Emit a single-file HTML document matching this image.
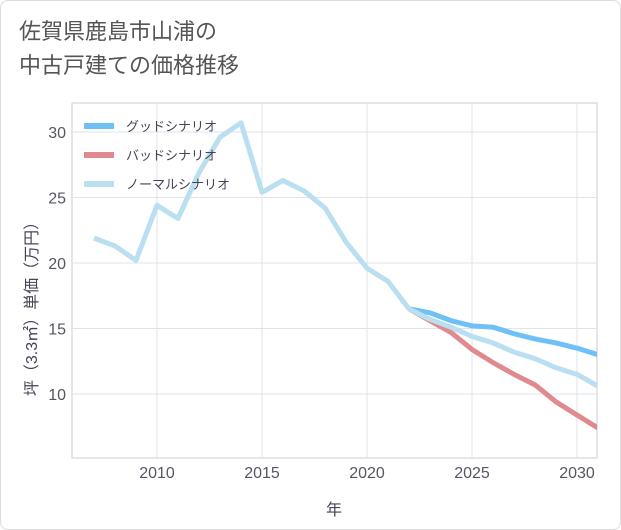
<!DOCTYPE html>
<html><head><meta charset="utf-8"><style>
body{margin:0;background:#fff;font-family:"Liberation Sans","Noto Sans CJK JP",sans-serif}
#wrap{position:relative;width:619px;height:528px;border:1px solid #ddd;border-radius:8px;background:#fff}
#title{position:absolute;left:18px;top:14px;font-size:22px;line-height:34px;color:#555}
</style></head><body>
<div id="wrap">
<div id="title">佐賀県鹿島市山浦の<br>中古戸建ての価格推移</div>
<svg id="chart" width="621" height="530" style="position:absolute;left:-1px;top:-1px"></svg>
</div>
<script>
const years=[2007,2008,2009,2010,2011,2012,2013,2014,2015,2016,2017,2018,2019,2020,2021,2022,2023,2024,2025,2026,2027,2028,2029,2030,2031];
const normal=[21.9,21.3,20.2,24.4,23.4,26.9,29.6,30.7,25.4,26.3,25.5,24.2,21.6,19.6,18.6,16.5,15.7,15.1,14.4,13.9,13.2,12.7,12.0,11.5,10.6];
const futYears=[2022,2023,2024,2025,2026,2027,2028,2029,2030,2031];
const good=[16.5,16.2,15.6,15.2,15.1,14.6,14.2,13.9,13.5,13.0];
const bad=[16.5,15.6,14.7,13.4,12.4,11.5,10.7,9.4,8.4,7.4];
const xTicks=[2010,2015,2020,2025,2030];
const yTicks=[10,15,20,25,30];
const NS="http://www.w3.org/2000/svg";
const svg=document.getElementById('chart');
const L=72,R=597,T=103,B=458;
const x=v=>157+(v-2010)*21;
const y=v=>263-(v-20)*13.1;
function el(t,a,p){const e=document.createElementNS(NS,t);for(const k in a)e.setAttribute(k,a[k]);(p||svg).appendChild(e);return e;}
const frame=el('rect',{x:L,y:T,width:R-L,height:B-T,fill:'none',stroke:'#ccc'});


xTicks.forEach(v=>{
 const g=el('line',{x1:x(v),x2:x(v),y1:T,y2:B,stroke:'#dde4ea'});
 
 
 const t=el('text',{x:x(v),y:478,'text-anchor':'middle','font-size':16,fill:'#556'});t.textContent=v;
 
 
});
yTicks.forEach(v=>{
 const g=el('line',{x1:L,x2:R,y1:y(v),y2:y(v),stroke:'#dde4ea'});
 
 
 const t=el('text',{x:66,y:y(v)+6,'text-anchor':'end','font-size':16,fill:'#556'});t.textContent=v;
 
 
});
const xt=el('text',{x:334,y:515,'text-anchor':'middle','font-size':16,fill:'#445'});xt.textContent='年';


const yt=el('text',{x:0,y:0,transform:'translate(37,305) rotate(-90)','text-anchor':'middle','font-size':16,fill:'#445'});yt.textContent='坪（3.3㎡）単価（万円）';


const clip=el('clipPath',{id:'c'});el('rect',{x:L,y:T,width:R-L,height:B-T},clip);
function line(xs,vs,color,name){
 const p=el('polyline',{points:xs.map((v,i)=>x(v)+','+y(vs[i])).join(' '),fill:'none',stroke:color,'stroke-width':5,'stroke-linejoin':'round','clip-path':'url(#c)'});
 
 
}
line(futYears,good,'#6ec0f5','good-scenario-line');
line(futYears,bad,'#e08a8f','bad-scenario-line');
line(years,normal,'#b9dff0','normal-scenario-line');
[['グッドシナリオ','#6ec0f5',126],['バッドシナリオ','#e08a8f',155],['ノーマルシナリオ','#b9dff0',184]].forEach(d=>{
 const g=el('line',{x1:84,x2:114,y1:d[2],y2:d[2],stroke:d[1],'stroke-width':6});
 
 
 const t=el('text',{x:126,y:d[2]+5,'font-size':13,fill:'#445'});t.textContent=d[0];
 
 
});
</script>
</body></html>
